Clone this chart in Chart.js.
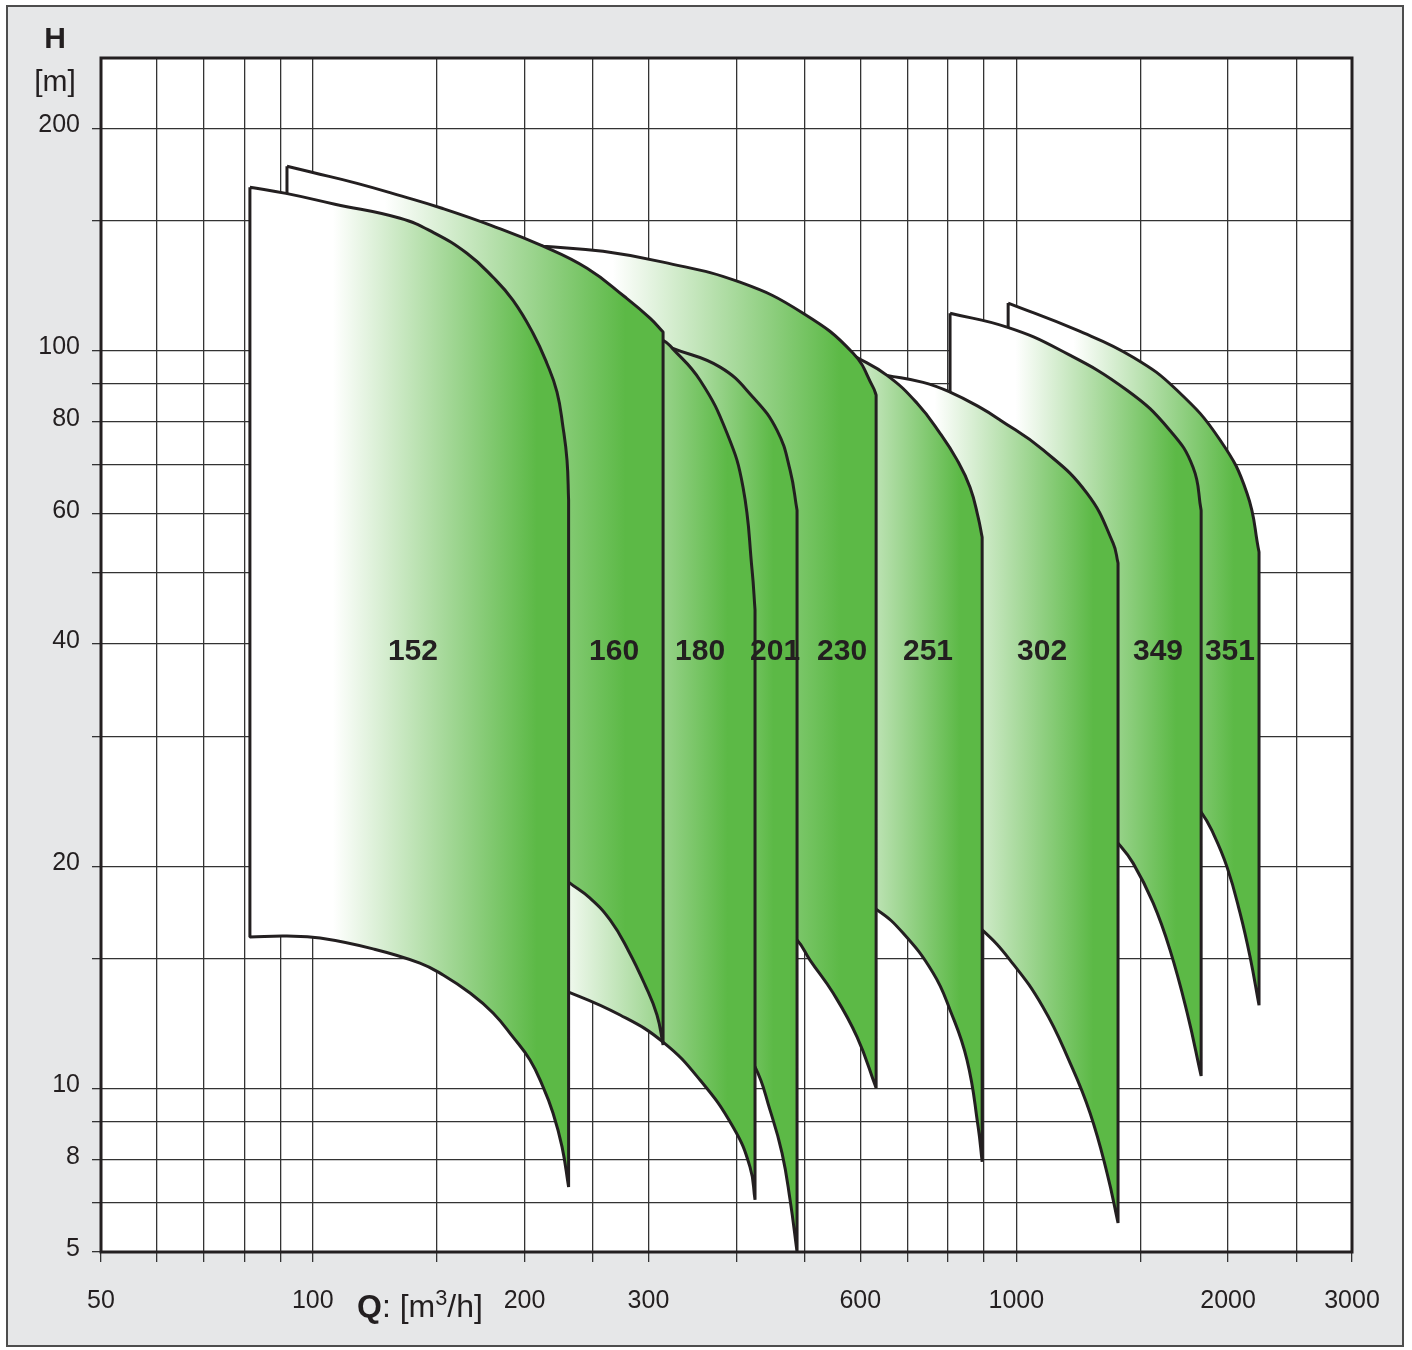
<!DOCTYPE html>
<html lang="de">
<head>
<meta charset="utf-8">
<title>Kennlinienfeld</title>
<script src="https://cdn.jsdelivr.net/npm/chart.js@4.4.1/dist/chart.umd.min.js"></script>
<style>
  html, body { margin: 0; padding: 0; background: #fff; }
  #page { position: relative; width: 1412px; height: 1350px; font-family: "Liberation Sans", Arial, sans-serif; color: #231f20; }
  #frame { position: absolute; left: 6px; top: 5px; width: 1398px; height: 1342px; box-sizing: border-box; border: 2px solid #4d4d4d; background: #e6e7e8; }
  #chart { position: absolute; left: 0; top: 0; }
  .axis-title { position: absolute; line-height: 1; white-space: nowrap; }
  #hTitle { left: 0; width: 110px; top: 23px; text-align: center; font-size: 30px; font-weight: bold; }
  #hUnit { left: 0; width: 110px; top: 66px; text-align: center; font-size: 30px; }
  #qTitle { left: 357px; top: 1290px; font-size: 32px; }
  #qTitle sup { font-size: 0.68em; vertical-align: 0.55em; line-height: 0; }
</style>
</head>
<body>
<div id="page">
  <div id="frame"></div>
  <canvas id="chart" width="1412" height="1350"></canvas>
  <div class="axis-title" id="hTitle">H</div>
  <div class="axis-title" id="hUnit">[m]</div>
  <div class="axis-title" id="qTitle"><b>Q</b>: [m<sup>3</sup>/h]</div>
</div>
<script>
// Baugrößen, von links nach rechts
const series = ['152', '160', '180', '201', '230', '251', '302', '349', '351'];

// obere Grenzkurve je Baugröße: [Q m3/h, H m], links -> rechts
const top152 = [[81.4, 166.4], [91.6, 163.2], [107.5, 157.8], [133.1, 151.0], [148.3, 144.5], [165.6, 135.4], [180.4, 125.6], [192.6, 116.9], [205.6, 105.5], [215.2, 96.0], [222.4, 87.8], [226.8, 78.7], [229.8, 71.0], [231, 62.7]];
const top160 = [[91.9, 177.6], [99.7, 174.3], [115.6, 168.4], [133.9, 161.8], [152.6, 155.8], [179.2, 147.7], [212.5, 138.4], [245.4, 129.2], [277.9, 118.1], [301.5, 110.6], [314.7, 105.9]];
const top180 = [[172.9, 119.9], [224.6, 114.1], [273.4, 108.8], [314.7, 103.2], [324.2, 100.7], [355.2, 91.1], [388.0, 77.2], [408.9, 65.2], [421.1, 50.4], [425.2, 44.5]];
const top201 = [[224.6, 112.6], [273.4, 106.5], [314.7, 101.9], [324.2, 100.7], [379.3, 94.9], [422.4, 86.4], [457.0, 77.9], [476.9, 68.8], [487.9, 60.7]];
const top230 = [[197.0, 139.3], [212.5, 138.4], [258.6, 136.2], [314.7, 131.7], [404.7, 123.7], [497.6, 112.3], [586.2, 99.1], [625.9, 89.1], [632.0, 87.0]];
const top251 = [[432.3, 108.2], [526.0, 104.9], [586.2, 98.5], [655.0, 92.5], [722.7, 84.8], [779.2, 77.2], [824.0, 71.0], [859.6, 65.2], [882.6, 59.4], [894.2, 55.8]];
const top302 = [[619.7, 93.4], [655.0, 92.5], [737.1, 90.5], [805.0, 87.8], [887.8, 83.7], [948.0, 80.5], [1091.4, 73.3], [1260.6, 64.0], [1372.6, 54.8], [1395.0, 51.5]];
const top349 = [[805.0, 112.3], [970.0, 107.5], [1153.9, 100.1], [1436.6, 88.3], [1653.6, 77.9], [1783.6, 69.4], [1831, 60.7]];
const top351 = [[973.6, 115.9], [1220.0, 106.5], [1465.4, 97.9], [1691.9, 88.3], [1948.0, 75.6], [2128.0, 64.0], [2213, 53.3]];

// untere Grenzkurve je Baugröße: [Q m3/h, H m], links -> rechts
const bot152 = [[81.4, 16.03], [91.9, 16.08], [102.4, 15.98], [121.8, 15.45], [142.0, 14.78], [153.2, 14.24], [167.3, 13.46], [180.4, 12.65], [192.6, 11.73], [203.6, 10.92], [212.5, 10.04], [219.5, 9.26], [226.1, 8.33], [231, 7.35]];
const bot160 = [[91.9, 24.6], [133.1, 24.0], [172.9, 22.5], [210.4, 20.5], [231, 19.03], [247.8, 18.10], [264.6, 16.91], [280.6, 15.40], [296.7, 13.80], [308.5, 12.57], [314.7, 11.45]];
const bot180 = [[172.9, 14.69], [197.0, 14.24], [231, 13.50], [273.4, 12.57], [314.7, 11.55], [355.2, 10.26], [395.7, 8.86], [418.3, 7.82], [425.2, 7.06]];
const bot201 = [[224.6, 16.39], [273.4, 15.40], [332.7, 14.02], [379.3, 12.77], [425.2, 10.69], [446.6, 9.34], [464.5, 8.17], [476.9, 7.06], [487.9, 6.0]];
const bot230 = [[197.0, 23.09], [273.4, 21.69], [355.2, 19.75], [432.3, 17.72], [487.9, 15.88], [509.0, 14.92], [549.0, 13.46], [593.9, 11.73], [632.0, 10.01]];
const bot251 = [[432.3, 20.07], [492.7, 19.45], [561.6, 18.57], [634.2, 17.44], [690.2, 16.23], [761.6, 14.33], [805.0, 12.77], [851.0, 10.92], [882.6, 8.86], [894.2, 7.95]];
const bot302 = [[619.7, 19.27], [683.6, 18.85], [805.0, 17.72], [894.2, 16.39], [979.7, 14.92], [1091.4, 12.88], [1192.7, 10.82], [1272.9, 9.26], [1346.0, 7.67], [1395.0, 6.57]];
const bot349 = [[805.0, 26.16], [1012.2, 25.51], [1192.7, 24.20], [1315.2, 22.73], [1395.0, 21.49], [1465.4, 20.19], [1564.7, 17.83], [1653.6, 15.40], [1749.2, 12.65], [1831, 10.39]];
const bot351 = [[973.6, 28.72], [1232.1, 28.10], [1499.6, 26.99], [1709.6, 25.51], [1831, 23.68], [1904.2, 22.17], [1993.2, 19.94], [2079.9, 17.27], [2149.2, 15.06], [2213, 12.96]];

const tops = [top152, top160, top180, top201, top230, top251, top302, top349, top351];
const bottoms = [bot152, bot160, bot180, bot201, bot230, bot251, bot302, bot349, bot351];

// Beschriftung der Felder (Q-Position), alle auf gleicher Höhe
const labelQ = [138.8, 268.1, 355.2, 454.0, 565.4, 749.0, 1088, 1590, 2012];
const labelH = 39;

// Achsen
const xGrid = [50, 60, 70, 80, 90, 100, 150, 200, 250, 300, 400, 500, 600, 700, 800, 900, 1000, 1500, 2000, 2500, 3000];
const xLabels = [50, 100, 200, 300, 600, 1000, 2000, 3000];
const yGrid = [6, 7, 8, 9, 10, 15, 20, 30, 40, 50, 60, 70, 80, 90, 100, 150, 200];
const yLabelValues = [6, 8, 10, 20, 40, 60, 80, 100, 200];
const yLabelText = ['5', '8', '10', '20', '40', '60', '80', '100', '200'];

const ink = '#231f20';
const green = '#5cb946';
const fontFamily = '"Liberation Sans", Arial, sans-serif';
Chart.defaults.font.family = fontFamily;

// geschlossener Umriss: oben links->rechts, dann unten rechts->links (Ecken doppelt = spitz)
function outline(top, bottom) {
  const back = bottom.slice().reverse();
  const pts = [top[0], ...top, top[top.length - 1], back[0], ...back, bottom[0], top[0]];
  return pts.map(([x, y]) => ({ x, y }));
}

// Verlauf weiss -> grün über die Breite des jeweiligen Feldes
function shapeFill(context) {
  const chart = context.chart;
  if (!chart.chartArea || !chart.scales.x) return green;
  const top = tops[context.datasetIndex];
  const xs = chart.scales.x;
  const left = xs.getPixelForValue(top[0][0]);
  const right = xs.getPixelForValue(top[top.length - 1][0]);
  const g = chart.ctx.createLinearGradient(left, 0, right, 0);
  g.addColorStop(0, '#ffffff');
  g.addColorStop(0.26, '#ffffff');
  g.addColorStop(0.9, green);
  g.addColorStop(1, green);
  return g;
}

const plotFrame = {
  id: 'plotFrame',
  beforeDraw(chart) {
    const { ctx, chartArea: a } = chart;
    ctx.save();
    ctx.fillStyle = '#ffffff';
    ctx.fillRect(a.left, a.top, a.width, a.height);
    ctx.restore();
  },
  afterDatasetsDraw(chart) {
    const { ctx, chartArea: a } = chart;
    ctx.save();
    ctx.strokeStyle = ink;
    ctx.lineWidth = 3;
    ctx.strokeRect(a.left, a.top, a.width, a.height);
    ctx.restore();
  }
};

const seriesLabels = {
  id: 'seriesLabels',
  afterDatasetsDraw(chart) {
    const { ctx, scales } = chart;
    ctx.save();
    ctx.fillStyle = ink;
    ctx.font = 'bold 30px ' + fontFamily;
    ctx.textAlign = 'center';
    ctx.textBaseline = 'middle';
    series.forEach((name, i) => {
      ctx.fillText(name, scales.x.getPixelForValue(labelQ[i]), scales.y.getPixelForValue(labelH));
    });
    ctx.restore();
  }
};

new Chart(document.getElementById('chart'), {
  type: 'line',
  data: {
    datasets: series.map((name, i) => ({
      label: name,
      data: outline(tops[i], bottoms[i]),
      fill: 'shape',
      backgroundColor: shapeFill,
      borderColor: ink,
      borderWidth: 3,
      borderJoinStyle: 'bevel',
      pointRadius: 0,
      tension: 0.45
    }))
  },
  options: {
    responsive: false,
    animation: false,
    events: [],
    layout: { padding: { top: 58, right: 60, left: 0, bottom: 0 } },
    plugins: { legend: { display: false }, tooltip: { enabled: false } },
    scales: {
      x: {
        type: 'logarithmic',
        min: 50,
        max: 3000,
        afterBuildTicks: (scale) => { scale.ticks = xGrid.map(v => ({ value: v })); },
        afterFit: (scale) => { scale.height = 98; },
        border: { display: false },
        grid: { color: '#333', lineWidth: 1.3, tickLength: 10, tickColor: '#333' },
        ticks: {
          autoSkip: false, maxRotation: 0, minRotation: 0, padding: 24,
          color: ink, font: { size: 25 },
          callback: (v) => xLabels.includes(v) ? String(v) : ''
        }
      },
      y: {
        type: 'logarithmic',
        min: 6,
        max: 249,
        afterBuildTicks: (scale) => { scale.ticks = yGrid.map(v => ({ value: v })); },
        afterFit: (scale) => { scale.width = 101; },
        border: { display: false },
        grid: { color: '#333', lineWidth: 1.3, tickLength: 9, tickColor: '#333' },
        ticks: {
          autoSkip: false, padding: 12, labelOffset: -3,
          color: ink, font: { size: 25 },
          callback: (v) => {
            const i = yLabelValues.indexOf(v);
            return i >= 0 ? yLabelText[i] : '';
          }
        }
      }
    }
  },
  plugins: [plotFrame, seriesLabels]
});
</script>
</body>
</html>
